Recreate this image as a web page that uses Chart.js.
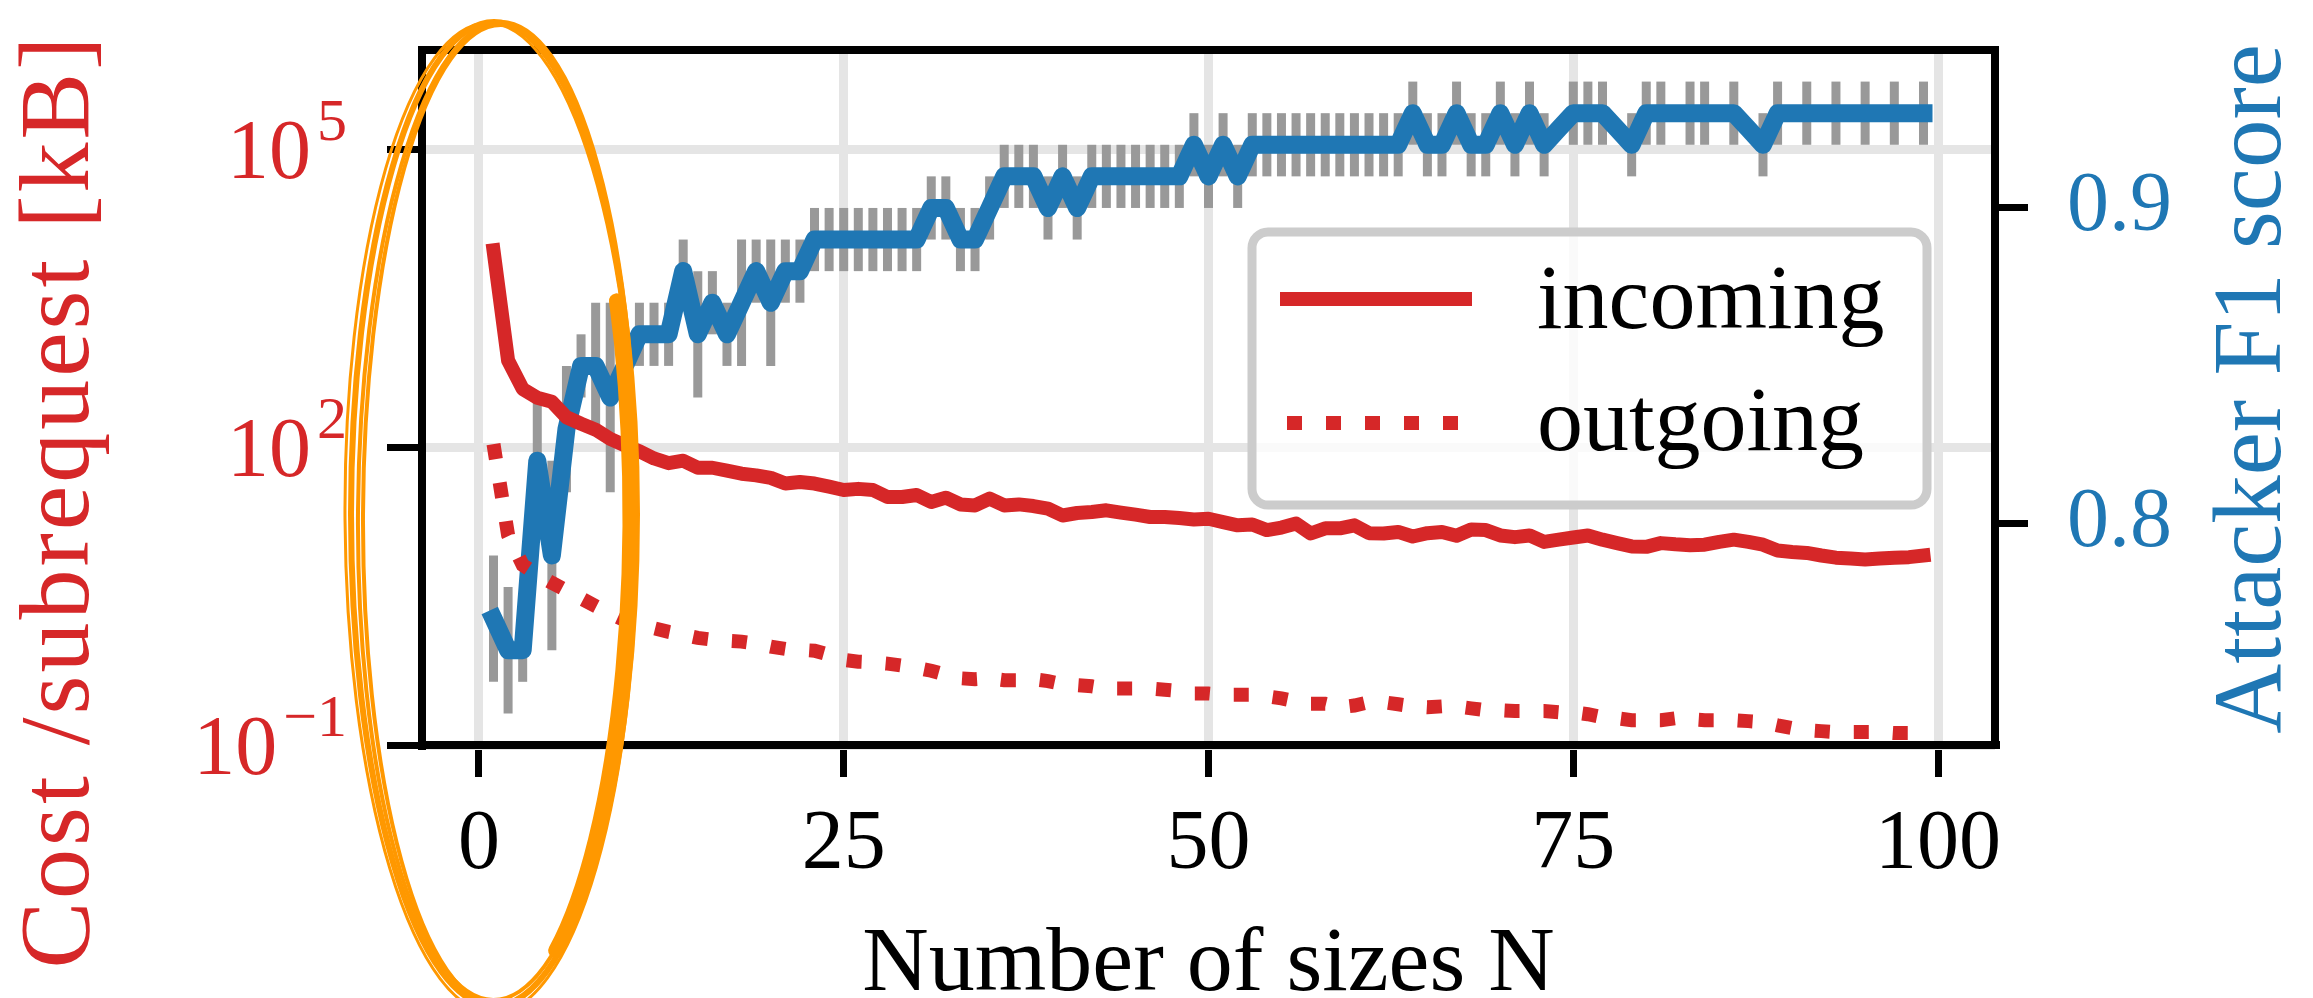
<!DOCTYPE html>
<html>
<head>
<meta charset="utf-8">
<title>Cost per subrequest and attacker F1 score</title>
<script src="https://cdn.jsdelivr.net/npm/chart.js@4.4.1/dist/chart.umd.min.js"></script>
<style>
  html, body { margin: 0; padding: 0; background: #fff; }
  #wrap { width: 2313px; height: 998px; }
</style>
</head>
<body>
<div id="wrap"><canvas id="chart" width="2313" height="998"></canvas></div>
<script>
// number of sizes N
const sizes = [1, 2, 3, 4, 5, 6, 7, 8, 9, 10,
    11, 12, 13, 14, 15, 16, 17, 18, 19, 20,
    21, 22, 23, 24, 25, 26, 27, 28, 29, 30,
    31, 32, 33, 34, 35, 36, 37, 38, 39, 40,
    41, 42, 43, 44, 45, 46, 47, 48, 49, 50,
    51, 52, 53, 54, 55, 56, 57, 58, 59, 60,
    61, 62, 63, 64, 65, 66, 67, 68, 69, 70,
    71, 72, 73, 74, 75, 76, 77, 78, 79, 80,
    81, 82, 83, 84, 85, 86, 87, 88, 89, 90,
    91, 92, 93, 94, 95, 96, 97, 98, 99]

// cost per subrequest in kB (left, log axis)
const incoming = [9600, 745, 386, 315, 287, 200, 172, 150, 121, 104,
    91, 77, 69, 73, 62, 62, 58, 54, 52, 49,
    43, 44.5, 43, 40, 37, 38, 37, 31.5, 31.5, 33,
    28, 31, 26.5, 25.9, 30.3, 25.9, 26.5, 25.5, 24, 20.5,
    21.7, 22.2, 23.1, 21.9, 20.9, 19.8, 19.8, 19.3, 18.7, 19,
    17.6, 16.3, 16.6, 14.6, 15.5, 17, 13.5, 15.2, 15.2, 16.3,
    13.6, 13.5, 14, 12.6, 13.6, 14, 12.8, 14.8, 14.6, 12.9,
    12.4, 12.9, 11.1, 11.7, 12.3, 12.9, 11.7, 10.8, 10, 9.9,
    10.8, 10.5, 10.3, 10.4, 11.1, 11.7, 11.1, 10.4, 9.1, 8.8,
    8.6, 8.1, 7.7, 7.55, 7.4, 7.55, 7.7, 7.8, 8.1]

const outgoing = [107, 13, 6.5, 5.2, 4.3, 3.6, 3.0, 2.5, 2.1, 1.8,
    1.6, 1.5, 1.38, 1.29, 1.2, 1.15, 1.12, 1.1, 1.05, 0.98,
    0.93, 0.91, 0.89, 0.81, 0.72, 0.69, 0.68, 0.66, 0.63, 0.60,
    0.56, 0.51, 0.47, 0.46, 0.47, 0.45, 0.45, 0.46, 0.44, 0.41,
    0.40, 0.39, 0.37, 0.37, 0.37, 0.37, 0.36, 0.35, 0.33, 0.33,
    0.32, 0.32, 0.32, 0.31, 0.295, 0.275, 0.26, 0.26, 0.24, 0.25,
    0.27, 0.27, 0.257, 0.245, 0.24, 0.245, 0.245, 0.234, 0.224, 0.224,
    0.22, 0.22, 0.22, 0.214, 0.214, 0.204, 0.19, 0.186, 0.178, 0.178,
    0.178, 0.186, 0.182, 0.178, 0.178, 0.178, 0.174, 0.17, 0.158, 0.148,
    0.141, 0.138, 0.135, 0.135, 0.135, 0.135, 0.132, 0.132, 0.132]

// attacker F1 score (right axis) and its spread
const f1 = [0.77, 0.76, 0.76, 0.82, 0.79, 0.83, 0.85, 0.85, 0.84, 0.85,
    0.86, 0.86, 0.86, 0.88, 0.86, 0.87, 0.86, 0.87, 0.88, 0.87,
    0.88, 0.88, 0.89, 0.89, 0.89, 0.89, 0.89, 0.89, 0.89, 0.89,
    0.90, 0.90, 0.89, 0.89, 0.90, 0.91, 0.91, 0.91, 0.90, 0.91,
    0.90, 0.91, 0.91, 0.91, 0.91, 0.91, 0.91, 0.91, 0.92, 0.91,
    0.92, 0.91, 0.92, 0.92, 0.92, 0.92, 0.92, 0.92, 0.92, 0.92,
    0.92, 0.92, 0.92, 0.93, 0.92, 0.92, 0.93, 0.92, 0.92, 0.93,
    0.92, 0.93, 0.92, 0.925, 0.93, 0.93, 0.93, 0.925, 0.92, 0.93,
    0.93, 0.93, 0.93, 0.93, 0.93, 0.93, 0.925, 0.92, 0.93, 0.93,
    0.93, 0.93, 0.93, 0.93, 0.93, 0.93, 0.93, 0.93, 0.93]

const f1Err = [0.02, 0.02, 0.01, 0.02, 0.03, 0.02, 0.01, 0.02, 0.03, 0.01,
    0.01, 0.01, 0.01, 0.01, 0.02, 0.01, 0.01, 0.02, 0.01, 0.02,
    0.01, 0.01, 0.01, 0.01, 0.01, 0.01, 0.01, 0.01, 0.01, 0.01,
    0.01, 0.01, 0.01, 0.01, 0.01, 0.01, 0.01, 0.01, 0.01, 0.01,
    0.01, 0.01, 0.01, 0.01, 0.01, 0.01, 0.01, 0.01, 0.01, 0.01,
    0.01, 0.01, 0.01, 0.01, 0.01, 0.01, 0.01, 0.01, 0.01, 0.01,
    0.01, 0.01, 0.01, 0.01, 0.01, 0.01, 0.01, 0.01, 0.01, 0.01,
    0.01, 0.01, 0.01, 0, 0.01, 0.01, 0.01, 0, 0.01, 0.01,
    0.01, 0, 0.01, 0.01, 0, 0.01, 0, 0.01, 0.01, 0,
    0.01, 0, 0.01, 0, 0.01, 0, 0.01, 0, 0.01]

// tick labels
const xTicks = [0, 25, 50, 75, 100]
const costTicks = [0.1, 100, 100000]
const f1Ticks = [0.8, 0.9]

const RED = '#d62728'
const BLUE = '#1f77b4'
const GRID = '#e5e5e5'
const ORANGE = '#ff9800'
const SERIF = "'Liberation Serif', 'DejaVu Serif', serif"

function points(values) {
    return sizes.map((n, i) => ({ x: n, y: values[i] }))
}

// keep the plot box where the reference has it
function fixBox(scale, size) {
    if (scale.isHorizontal()) scale.height = size
    else scale.width = size
    scale.paddingTop = 0
    scale.paddingBottom = 0
    scale.paddingLeft = 0
    scale.paddingRight = 0
}

const extras = {
    id: 'extras',
    beforeDatasetDraw(chart, args) {
        // grey error bars go right under the F1 line
        if (args.index !== 2) return
        const ctx = chart.ctx
        const xs = chart.scales.x
        const ys = chart.scales.y1
        const area = chart.chartArea
        ctx.save()
        ctx.beginPath()
        ctx.rect(area.left, area.top, area.right - area.left, area.bottom - area.top)
        ctx.clip()
        ctx.strokeStyle = '#999999'
        ctx.lineWidth = 9
        ctx.lineCap = 'butt'
        sizes.forEach((n, i) => {
            if (!f1Err[i]) return
            let x = xs.getPixelForValue(n)
            ctx.beginPath()
            ctx.moveTo(x, ys.getPixelForValue(f1[i] - f1Err[i]))
            ctx.lineTo(x, ys.getPixelForValue(f1[i] + f1Err[i]))
            ctx.stroke()
        })
        ctx.restore()
    },
    afterDatasetsDraw(chart) {
        const ctx = chart.ctx
        const a = chart.chartArea
        // frame
        ctx.save()
        ctx.strokeStyle = '#000'
        ctx.lineWidth = 8
        ctx.strokeRect(a.left, a.top, a.right - a.left, a.bottom - a.top)

        // legend box
        let lx = 1252, ly = 232, lw = 675, lh = 273, r = 16
        ctx.beginPath()
        ctx.roundRect(lx, ly, lw, lh, r)
        ctx.fillStyle = 'rgba(255,255,255,0.8)'
        ctx.fill()
        ctx.lineWidth = 9
        ctx.strokeStyle = '#cccccc'
        ctx.stroke()

        const rows = [{ ds: chart.data.datasets[0], y: 299, base: 328 },
                      { ds: chart.data.datasets[1], y: 423, base: 450 }]
        rows.forEach(row => {
            ctx.beginPath()
            ctx.strokeStyle = row.ds.borderColor
            ctx.lineWidth = row.ds.borderWidth
            ctx.lineCap = 'butt'
            ctx.setLineDash(row.ds.borderDash || [])
            ctx.moveTo(row.ds.borderDash ? 1287 : 1280, row.y)
            ctx.lineTo(1472, row.y)
            ctx.stroke()
            ctx.setLineDash([])
            ctx.fillStyle = '#000'
            ctx.font = '92px ' + SERIF
            ctx.textAlign = 'left'
            ctx.textBaseline = 'alphabetic'
            ctx.fillText(row.ds.label, 1537, row.base)
        })
        ctx.restore()
    },
    afterDraw(chart) {
        const ctx = chart.ctx
        const a = chart.chartArea
        const ys = chart.scales.y
        ctx.save()

        // log tick labels with superscript exponent
        ctx.fillStyle = RED
        ctx.textBaseline = 'alphabetic'
        ctx.textAlign = 'left'
        costTicks.forEach(v => {
            let y = ys.getPixelForValue(v)
            let e = Math.round(Math.log10(v))
            let expText = e < 0 ? '\u2212' + (-e) : String(e)
            ctx.font = '60px ' + SERIF
            let we = ctx.measureText(expText).width
            ctx.font = '84px ' + SERIF
            let wb = ctx.measureText('10').width
            let right = 347
            ctx.fillText('10', right - we - 6 - wb, y + 29)
            ctx.font = '60px ' + SERIF
            ctx.fillText(expText, right - we, y - 9)
        })

        // axis titles
        ctx.fillStyle = '#000'
        ctx.font = '92px ' + SERIF
        ctx.textAlign = 'center'
        ctx.fillText('Number of sizes N', (a.left + a.right) / 2, 990)

        ctx.save()
        ctx.translate(88, 501)
        ctx.rotate(-Math.PI / 2)
        ctx.fillStyle = RED
        ctx.font = '100px ' + SERIF
        ctx.textAlign = 'center'
        let title = 'Cost /subrequest [kB]'
        let natural = ctx.measureText(title).width
        let sp = Math.max(0, Math.min(3, (950 - natural) / title.length))
        ctx.letterSpacing = sp + 'px'
        ctx.fillText(title, 0, 0)
        ctx.restore()

        ctx.save()
        ctx.translate(2280, 389)
        ctx.rotate(-Math.PI / 2)
        ctx.fillStyle = BLUE
        ctx.font = '97px ' + SERIF
        ctx.textAlign = 'center'
        ctx.fillText('Attacker F1 score', 0, 0)
        ctx.restore()

        // hand drawn orange ellipse on top
        ctx.strokeStyle = ORANGE
        ctx.lineCap = 'round'
        const passes = [
            [494, 514, 143, 492, 6, 0],
            [497, 511, 139, 489, 4, 0.008],
            [491, 518, 146, 495, 3, -0.006],
            [499, 515, 136, 490, 4, 0.004]
        ]
        passes.forEach(p => {
            ctx.beginPath()
            ctx.lineWidth = p[4]
            ctx.ellipse(p[0], p[1], p[2], p[3], p[5], 0, Math.PI * 2)
            ctx.stroke()
        })
        ctx.beginPath()
        ctx.lineWidth = 15
        ctx.ellipse(494, 514, 136, 490, 0, -0.45, 1.1)
        ctx.stroke()
        ctx.restore()
    }
}

const ctx = document.getElementById('chart')
new Chart(ctx, {
    type: 'line',
    data: {
        datasets: [{
            label: 'incoming',
            data: points(incoming),
            yAxisID: 'y',
            borderColor: RED,
            borderWidth: 14,
            borderJoinStyle: 'round',
            borderCapStyle: 'square',
            pointRadius: 0,
            tension: 0
        }, {
            label: 'outgoing',
            data: points(outgoing),
            yAxisID: 'y',
            borderColor: RED,
            borderWidth: 14,
            borderDash: [15, 24],
            borderCapStyle: 'butt',
            pointRadius: 0,
            tension: 0
        }, {
            label: 'Attacker F1 score',
            data: points(f1),
            yAxisID: 'y1',
            borderColor: BLUE,
            borderWidth: 18,
            borderJoinStyle: 'round',
            borderCapStyle: 'square',
            pointRadius: 0,
            tension: 0
        }]
    },
    options: {
        responsive: false,
        animation: false,
        layout: { padding: { top: 50, left: 0, right: 0, bottom: 0 } },
        plugins: {
            legend: { display: false },
            tooltip: { enabled: false }
        },
        scales: {
            x: {
                type: 'linear',
                min: -3.9,
                max: 103.9,
                afterBuildTicks: s => { s.ticks = xTicks.map(v => ({ value: v })) },
                afterFit: s => fixBox(s, 253),
                grid: { color: GRID, lineWidth: 9, tickColor: '#000', tickWidth: 7, tickLength: 32 },
                border: { color: '#000', width: 8 },
                ticks: {
                    font: { family: SERIF, size: 84 },
                    color: '#000',
                    padding: 19,
                    maxRotation: 0,
                    minRotation: 0,
                    autoSkip: false,
                    callback: v => String(v)
                }
            },
            y: {
                type: 'logarithmic',
                position: 'left',
                min: 0.1,
                max: 1000000,
                afterBuildTicks: s => { s.ticks = costTicks.map(v => ({ value: v })) },
                afterFit: s => fixBox(s, 422),
                grid: { color: GRID, lineWidth: 9, tickColor: '#000', tickWidth: 7, tickLength: 35 },
                border: { color: '#000', width: 8 },
                ticks: { display: false }
            },
            y1: {
                type: 'linear',
                position: 'right',
                min: 0.73,
                max: 0.95,
                afterBuildTicks: s => { s.ticks = f1Ticks.map(v => ({ value: v })) },
                afterFit: s => fixBox(s, 318),
                grid: { drawOnChartArea: false, tickColor: '#000', tickWidth: 7, tickLength: 33 },
                border: { color: '#000', width: 8 },
                ticks: {
                    font: { family: SERIF, size: 84 },
                    color: BLUE,
                    padding: 39,
                    callback: v => v.toFixed(1)
                }
            }
        }
    },
    plugins: [extras]
})
</script>
</body>
</html>
